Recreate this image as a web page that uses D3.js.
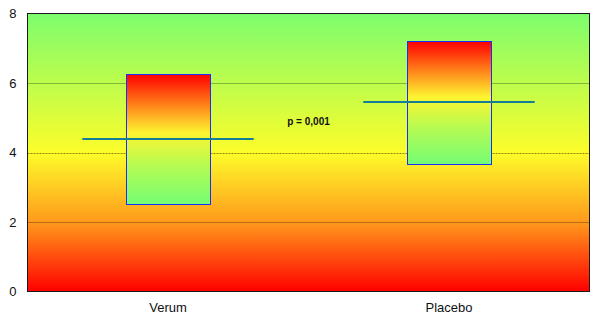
<!DOCTYPE html>
<html>
<head>
<meta charset="utf-8">
<script src="https://cdn.jsdelivr.net/npm/d3@7"></script>
<style>
  body { margin: 0; background: #fff; }
  text { font-family: "Liberation Sans", Arial, sans-serif; }
</style>
</head>
<body>
<script>
// data
var groups = ["Verum", "Placebo"];
var boxLow = [2.52, 3.68];
var boxHigh = [6.27, 7.22];
var means = [4.39, 5.45];
var yTicks = [0, 2, 4, 6, 8];
var pLabel = "p = 0,001";
var pLabelValue = 4.8;

// global sizes (window.top is reserved, so plot edges get their own names)
var w = 602;
var h = 325;
var plotL = 27.5, plotR = 589.5, plotT = 13.5, plotB = 291.5;

var svg = d3.select("body")
            .append("svg")
            .attr("width", w)
            .attr("height", h);

var x = d3.scaleBand().domain(groups).range([plotL, plotR]);
var y = d3.scaleLinear().domain([0, 8]).range([plotB, plotT]);

var defs = svg.append("defs");

// background: green at top, yellow in the middle, red at bottom
var bg = defs.append("linearGradient")
             .attr("id", "bg")
             .attr("x1", 0).attr("y1", 0).attr("x2", 0).attr("y2", 1);
bg.append("stop").attr("offset", "0%").attr("stop-color", "#7dfd6e");
bg.append("stop").attr("offset", "50%").attr("stop-color", "#fdfd2a");
bg.append("stop").attr("offset", "75%").attr("stop-color", "#ff9a1c");
bg.append("stop").attr("offset", "100%").attr("stop-color", "#ff0000");

// boxes: red at top, yellow, green at bottom
var bx = defs.append("linearGradient")
             .attr("id", "bx")
             .attr("x1", 0).attr("y1", 0).attr("x2", 0).attr("y2", 1);
bx.append("stop").attr("offset", "0%").attr("stop-color", "#ff0000");
bx.append("stop").attr("offset", "22%").attr("stop-color", "#ff7a18");
bx.append("stop").attr("offset", "45%").attr("stop-color", "#fdf530");
bx.append("stop").attr("offset", "70%").attr("stop-color", "#b6fb52");
bx.append("stop").attr("offset", "100%").attr("stop-color", "#74fd74");

svg.append("rect")
   .attr("x", plotL).attr("y", plotT)
   .attr("width", plotR - plotL).attr("height", plotB - plotT)
   .attr("fill", "url(#bg)");

function plotGrid() {
    [2, 6].forEach(function(t) {
        svg.append("line")
           .attr("x1", plotL).attr("x2", plotR)
           .attr("y1", Math.round(y(t)) + 0.5).attr("y2", Math.round(y(t)) + 0.5)
           .attr("stroke", "#000")
           .attr("stroke-opacity", 0.28);
    });
    svg.append("line")
       .attr("x1", plotL).attr("x2", plotR)
       .attr("y1", Math.round(y(4)) + 0.5).attr("y2", Math.round(y(4)) + 0.5)
       .attr("stroke", "#6a5000")
       .attr("stroke-opacity", 0.7)
       .attr("stroke-dasharray", "2,1");
}

function plotBoxes() {
    var bw = x.bandwidth() * 0.3;
    var mw = x.bandwidth() * 0.61;
    groups.forEach(function(g, i) {
        var cx = x(g) + x.bandwidth() / 2;
        svg.append("rect")
           .attr("x", Math.round(cx - bw / 2) + 0.5)
           .attr("y", Math.round(y(boxHigh[i])) + 0.5)
           .attr("width", Math.round(bw))
           .attr("height", Math.round(y(boxLow[i]) - y(boxHigh[i])))
           .attr("fill", "url(#bx)")
           .attr("stroke", "#1a2cff")
           .attr("stroke-width", 1);
        svg.append("line")
           .attr("x1", cx - mw / 2).attr("x2", cx + mw / 2)
           .attr("y1", y(means[i])).attr("y2", y(means[i]))
           .attr("stroke", "#137e95")
           .attr("stroke-width", 2);
    });
}

function plotAxes() {
    var yAxis = d3.axisLeft(y).tickValues(yTicks).tickSize(0).tickPadding(11);
    var gy = svg.append("g").attr("transform", "translate(" + plotL + ",0)").call(yAxis);
    gy.select(".domain").remove();
    gy.selectAll("text").attr("font-size", 13).attr("fill", "#111")
      .style("font-family", "'Liberation Sans', Arial, sans-serif");

    var xAxis = d3.axisBottom(x).tickSize(0).tickPadding(11);
    var gx = svg.append("g").attr("transform", "translate(0," + plotB + ")").call(xAxis);
    gx.select(".domain").remove();
    gx.selectAll("text").attr("font-size", 13).attr("fill", "#111")
      .style("font-family", "'Liberation Sans', Arial, sans-serif");

    // frame round the plot
    svg.append("rect")
       .attr("x", plotL).attr("y", plotT)
       .attr("width", plotR - plotL).attr("height", plotB - plotT)
       .attr("fill", "none")
       .attr("stroke", "#1a1a1a")
       .attr("stroke-width", 1);
}

plotGrid();
plotBoxes();
plotAxes();

svg.append("text")
   .attr("x", (plotL + plotR) / 2)
   .attr("y", y(pLabelValue))
   .attr("text-anchor", "middle")
   .attr("font-size", 10)
   .attr("font-weight", "bold")
   .attr("fill", "#111")
   .text(pLabel);
</script>
</body>
</html>
